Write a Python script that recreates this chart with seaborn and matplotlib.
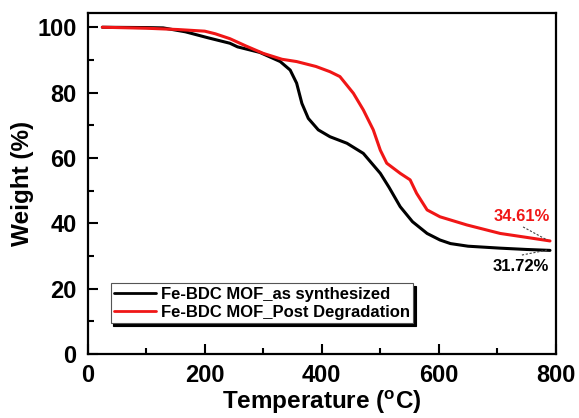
import matplotlib
matplotlib.use("Agg")
import matplotlib.pyplot as plt
import seaborn as sns
import pandas as pd
from matplotlib.ticker import MultipleLocator
from matplotlib.lines import Line2D

# Data
temp_as = [25, 100, 129, 167, 205, 243, 256, 294, 329, 346, 357, 366, 377, 394, 414, 443, 471,
           500, 515, 534, 555, 580, 602, 620, 650, 705, 750, 790]
weight_as = [100, 99.9, 99.8, 98.6, 96.8, 95.1, 94.0, 92.3, 89.5, 86.9, 82.9, 76.7, 72.1, 68.6,
             66.5, 64.5, 61.4, 55.3, 51.0, 45.1, 40.5, 36.9, 34.9, 33.8, 33.0, 32.4, 32.0, 31.72]

temp_post = [25, 100, 154, 200, 218, 243, 270, 300, 332, 357, 390, 414, 431, 454, 471, 488, 500,
             511, 534, 551, 562, 580, 602, 648, 705, 750, 790]
weight_post = [100, 99.7, 99.3, 98.8, 98.0, 96.5, 94.3, 92.0, 90.2, 89.5, 88.0, 86.4, 84.9, 79.8,
               74.7, 68.6, 62.4, 58.4, 55.3, 53.3, 49.2, 44.1, 42.0, 39.5, 36.9, 35.7, 34.61]

labels = ["Fe-BDC MOF_as synthesized", "Fe-BDC MOF_Post Degradation"]
colors = ["black", "#f01616"]
end_labels = ["31.72%", "34.61%"]

df = pd.concat([
    pd.DataFrame({"T": temp_as, "W": weight_as, "s": labels[0]}),
    pd.DataFrame({"T": temp_post, "W": weight_post, "s": labels[1]}),
])

sns.set_style("ticks")
plt.rcParams["font.family"] = ["Liberation Sans", "DejaVu Sans"]
plt.rcParams["font.weight"] = "bold"
plt.rcParams["mathtext.fontset"] = "custom"
plt.rcParams["mathtext.bf"] = "Liberation Sans:bold"
plt.rcParams["mathtext.rm"] = "Liberation Sans:bold"
for k in ["text.color", "axes.labelcolor", "xtick.color", "ytick.color", "axes.edgecolor"]:
    plt.rcParams[k] = "black"

fig = plt.figure(figsize=(5.79, 4.18), dpi=100)
ax = fig.add_axes([0.1515, 0.153, 0.8085, 0.817])

sns.lineplot(data=df, x="T", y="W", hue="s", palette=dict(zip(labels, colors)),
             sort=False, linewidth=2.2, ax=ax, legend=False)

ax.set_xlim(0, 800)
ax.set_ylim(0, 104.5)
ax.xaxis.set_major_locator(MultipleLocator(200))
ax.xaxis.set_minor_locator(MultipleLocator(100))
ax.yaxis.set_major_locator(MultipleLocator(20))
ax.yaxis.set_minor_locator(MultipleLocator(10))
ax.tick_params(which="major", direction="in", length=7, width=1.5, labelsize=17,
               colors="black")
ax.tick_params(axis="x", which="major", pad=7)
ax.tick_params(axis="y", which="major", pad=8)
ax.tick_params(which="minor", direction="in", length=4, width=1.5, colors="black")
ax.tick_params(top=False, right=False, which="both")
for lab in ax.get_xticklabels() + ax.get_yticklabels():
    lab.set_fontweight("bold")
for sp in ax.spines.values():
    sp.set_linewidth(1.6)
    sp.set_color("black")

ax.set_xlabel(r"Temperature ($^\mathregular{o}$C)", fontsize=17.5, fontweight="bold",
              labelpad=1, color="black")
ax.set_ylabel("Weight (%)", fontsize=17.5, fontweight="bold", labelpad=2, color="black")

# annotations
ax.text(742, 42.2, end_labels[1], color=colors[1], fontsize=12, fontweight="bold",
        ha="center", va="center")
ax.plot([744, 785], [38.9, 34.9], ls=(0, (2, 1.5)), color="#444444", lw=0.8)
ax.text(740, 26.9, end_labels[0], color="black", fontsize=12, fontweight="bold",
        ha="center", va="center")
ax.plot([742, 785], [30.3, 31.8], ls=(0, (2, 1.5)), color="#444444", lw=0.8)

handles = [Line2D([], [], color=c, lw=2) for c in colors]
leg = ax.legend(handles, labels, loc="lower left", bbox_to_anchor=(0.049, 0.09),
                fontsize=12, frameon=True, fancybox=False, framealpha=1,
                edgecolor="#555555", handlelength=2.5, handletextpad=0.3,
                borderpad=0.2, labelspacing=0.2, borderaxespad=0,
                shadow={"color": "black", "alpha": 1})
leg.get_frame().set_linewidth(0.8)
for t in leg.get_texts():
    t.set_fontweight("bold")
    t.set_color("black")

fig.savefig("out.png", dpi=100)
